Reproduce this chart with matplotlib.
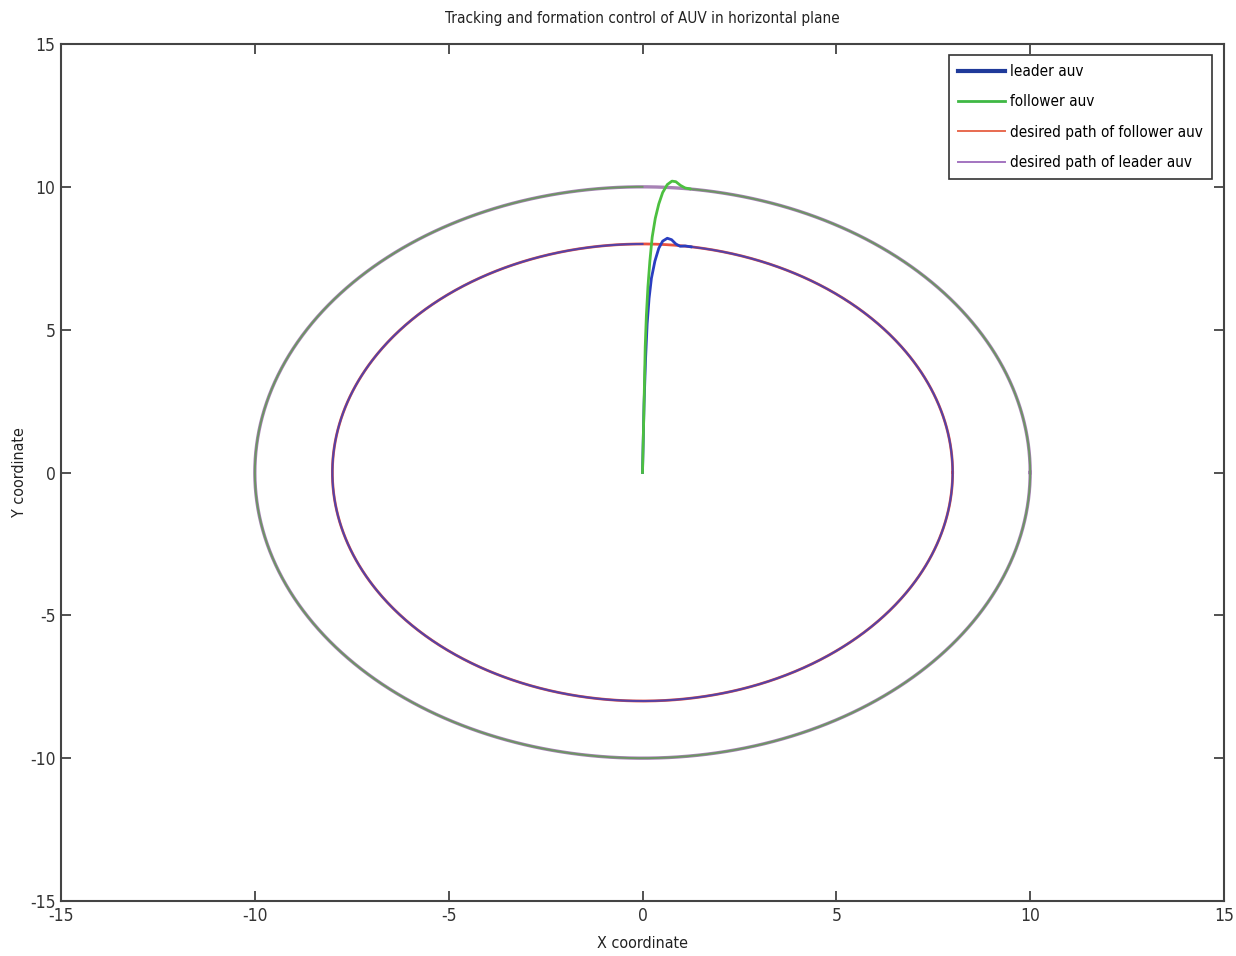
import numpy as np
import matplotlib
matplotlib.use("Agg")
import matplotlib.pyplot as plt

plt.rcParams['font.family'] = ['DejaVu Sans']
plt.rcParams['font.stretch'] = 'condensed'
plt.rcParams['axes.unicode_minus'] = False

# ---- data ----
leader_radius = 8.0
follower_radius = 10.0
# start-up transients (x, y)
leader_tx = [0.0, 0.02, 0.04, 0.08, 0.12, 0.17, 0.23, 0.32, 0.42, 0.52, 0.64, 0.75, 0.86, 0.97, 1.10, 1.25]
leader_ty = [0.0, 1.2, 2.4, 4.0, 5.2, 6.1, 6.8, 7.4, 7.85, 8.1, 8.2, 8.15, 8.0, 7.92, 7.93, 7.90]
follower_tx = [0.0, 0.02, 0.04, 0.07, 0.10, 0.14, 0.19, 0.25, 0.33, 0.42, 0.52, 0.64, 0.76, 0.86, 0.98, 1.10, 1.22]
follower_ty = [0.0, 1.2, 2.4, 4.4, 5.5, 6.5, 7.4, 8.24, 8.9, 9.4, 9.8, 10.08, 10.2, 10.18, 10.05, 9.96, 9.93]

xticks = [-15, -10, -5, 0, 5, 10, 15]
yticks = [-15, -10, -5, 0, 5, 10, 15]
title = "Tracking and formation control of AUV in horizontal plane"

# ---- figure ----
fig = plt.figure(figsize=(12.36, 9.56), dpi=100)
L, R, T, B = 61, 1224, 44, 901
ax = fig.add_axes([L/1236, (956-B)/956, (R-L)/1236, (B-T)/956])

def circle(r, start_xy, n=720):
    a0 = np.arctan2(start_xy[1], start_xy[0])
    ang = np.linspace(a0, np.pi/2 - 2*np.pi, n)
    return r*np.cos(ang), r*np.sin(ang)

full = np.linspace(0, 2*np.pi, 1000)

# desired paths
ax.plot(leader_radius*np.cos(full), leader_radius*np.sin(full), color='#e8513f', lw=2.0, zorder=2)
ax.plot(follower_radius*np.cos(full), follower_radius*np.sin(full), color='#a782b5', lw=2.4, zorder=2)

# actual trajectories
lcx, lcy = circle(leader_radius, (leader_tx[-1], leader_ty[-1]))
fcx, fcy = circle(follower_radius, (follower_tx[-1], follower_ty[-1]))

ax.plot(fcx, fcy, color='#5a9a4a', lw=1.4, alpha=0.75, zorder=3)
ax.plot(lcx, lcy, color='#3c40b8', lw=1.5, alpha=0.85, zorder=3)
ax.plot(leader_tx, leader_ty, color='#2a3ec0', lw=2.0, zorder=4)
ax.plot(follower_tx, follower_ty, color='#4cc040', lw=2.0, zorder=5)

# legend handles
h1, = ax.plot([], [], color='#1f3a9a', lw=3.0, label='leader auv')
h2, = ax.plot([], [], color='#3fb844', lw=2.0, label='follower auv')
h3, = ax.plot([], [], color='#e86a50', lw=1.4, label='desired path of follower auv')
h4, = ax.plot([], [], color='#a374c0', lw=1.4, label='desired path of leader auv')
leg = ax.legend(handles=[h1, h2, h3, h4], loc='upper right',
                bbox_to_anchor=(1 - 12/(R-L), 1 - 11/(B-T)), borderaxespad=0,
                fontsize=11, frameon=True, fancybox=False, framealpha=1,
                edgecolor='#333333', handlelength=3.1, handletextpad=0.3,
                labelspacing=1.0, borderpad=0.6)
leg.get_frame().set_linewidth(1.2)

ax.set_xlim(-15, 15)
ax.set_ylim(-15, 15)
ax.set_xticks(xticks)
ax.set_yticks(yticks)
ax.tick_params(direction='in', top=True, right=True, length=7, width=1.2,
               labelsize=12.5, colors='#333333', pad=4)
for s in ax.spines.values():
    s.set_linewidth(1.5)
    s.set_color('#444444')

ax.set_title(title, fontsize=11, color='#222222', pad=15)
ax.set_xlabel('X coordinate', fontsize=11.5, color='#222222', labelpad=8)
ax.set_ylabel('Y coordinate', fontsize=11.5, color='#222222', labelpad=2)

fig.savefig('out.png', dpi=100, facecolor='white')
